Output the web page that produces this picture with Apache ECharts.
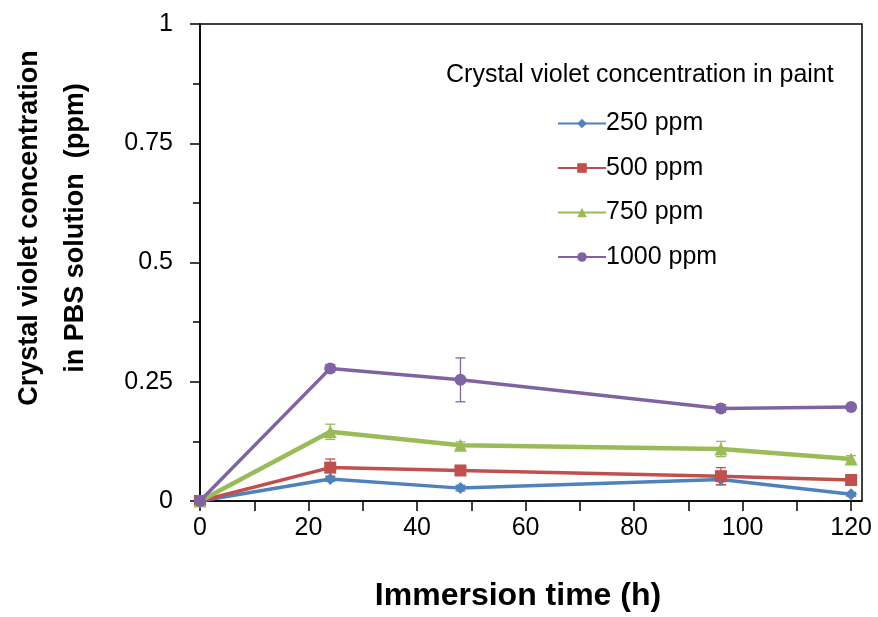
<!DOCTYPE html>
<html>
<head>
<meta charset="utf-8">
<script src="https://cdn.jsdelivr.net/npm/echarts@6/dist/echarts.min.js"></script>
<style>html,body{margin:0;padding:0;background:#fff;}#c{width:878px;height:617px;}</style>
</head>
<body>
<div id="c"></div>
<script>
const time = [0, 24, 48, 96, 120];
const seriesNames = ['250 ppm', '500 ppm', '750 ppm', '1000 ppm'];
const c250 = [0, 0.046, 0.027, 0.045, 0.014];
const c500 = [0, 0.070, 0.064, 0.052, 0.044];
const c750 = [0, 0.145, 0.117, 0.109, 0.088];
const c1000 = [0, 0.278, 0.254, 0.194, 0.197];
const err250 = [0, 0.005, 0.006, 0.011, 0.004];
const err500 = [0, 0.018, 0.005, 0.018, 0.004];
const err750 = [0, 0.016, 0.007, 0.016, 0.007];
const err1000 = [0, 0.008, 0.046, 0.008, 0.004];
const xTicks = [0, 10, 20, 30, 40, 50, 60, 70, 80, 90, 100, 110, 120];
const xLabels = [0, 20, 40, 60, 80, 100, 120];
const yTitle = 'Crystal violet concentration\nin PBS solution  (ppm)';
const xTitle = 'Immersion time (h)';
const legendTitle = 'Crystal violet concentration in paint';

const values = [c250, c500, c750, c1000];
const errors = [err250, err500, err750, err1000];
const colors = ['#4F81BD', '#C0504D', '#9BBB59', '#8064A2'];
const symbols = ['diamond', 'rect', 'triangle', 'circle'];
const symbolSizes = [12, 12, 13, 12];
const lineWidths = [3.5, 3.5, 4.5, 3.5];

const font = 'Liberation Sans, Arial, sans-serif';
const chart = echarts.init(document.getElementById('c'));

const series = [];
values.forEach((vals, i) => {
  series.push({
    type: 'custom',
    name: seriesNames[i] + ' err',
    silent: true,
    z: 2,
    data: time.map((t, j) => [t, vals[j], errors[i][j]]),
    renderItem: function (params, api) {
      const x = api.value(0), y = api.value(1), e = api.value(2);
      if (!e) return null;
      const top = api.coord([x, y + e]);
      const bot = api.coord([x, y - e]);
      const cap = 5;
      const st = { stroke: colors[i], lineWidth: 1.3 };
      return {
        type: 'group',
        children: [
          { type: 'line', shape: { x1: top[0], y1: top[1], x2: bot[0], y2: bot[1] }, style: st },
          { type: 'line', shape: { x1: top[0] - cap, y1: top[1], x2: top[0] + cap, y2: top[1] }, style: st },
          { type: 'line', shape: { x1: bot[0] - cap, y1: bot[1], x2: bot[0] + cap, y2: bot[1] }, style: st }
        ]
      };
    }
  });
});
values.forEach((vals, i) => {
  series.push({
    type: 'line',
    name: seriesNames[i],
    data: time.map((t, j) => [t, vals[j]]),
    symbol: symbols[i],
    symbolSize: symbolSizes[i],
    showAllSymbol: true,
    z: 3 + i,
    lineStyle: { color: colors[i], width: lineWidths[i] },
    itemStyle: { color: colors[i] },
    emphasis: { disabled: true },
    animation: false
  });
});

chart.setOption({
  animation: false,
  backgroundColor: '#fff',
  title: {
    text: legendTitle,
    left: 441,
    top: 58,
    textStyle: { fontFamily: font, fontSize: 25, fontWeight: 'normal', color: '#000' }
  },
  legend: {
    orient: 'vertical',
    left: 552,
    top: 106,
    itemWidth: 48,
    itemHeight: 12,
    itemGap: 19.5,
    data: seriesNames,
    textStyle: { fontFamily: font, fontSize: 25, color: '#000', padding: [0, 0, 0, -5] }
  },
  grid: {
    left: 200, top: 24, right: 16, bottom: 116,
    show: true, borderColor: '#000', borderWidth: 1.5, backgroundColor: 'transparent'
  },
  xAxis: {
    type: 'value',
    min: 0, max: 122,
    interval: 10,
    axisLine: { show: true, onZero: false, lineStyle: { color: '#000', width: 1.5 } },
    axisTick: { show: true, inside: false, length: 10, lineStyle: { color: '#000', width: 1.5 }, customValues: xTicks },
    axisLabel: { customValues: xLabels, margin: 15, fontFamily: font, fontSize: 25, color: '#000' },
    splitLine: { show: false }
  },
  yAxis: {
    type: 'value',
    min: 0, max: 1, interval: 0.25,
    axisLine: { show: true, lineStyle: { color: '#000', width: 1.5 } },
    axisTick: { show: true, inside: false, length: 10, lineStyle: { color: '#000', width: 1.5 } },
    minorTick: { show: true, splitNumber: 2, length: 7, lineStyle: { color: '#000', width: 1.5 } },
    axisLabel: { margin: 27, fontFamily: font, fontSize: 25, color: '#000' },
    splitLine: { show: false },
    minorSplitLine: { show: false }
  },
  graphic: [
    {
      type: 'text',
      x: 53, y: 228,
      rotation: Math.PI / 2,
      style: {
        text: yTitle,
        fontFamily: font, fontSize: 27, fontWeight: 'bold', lineHeight: 46,
        fill: '#000', align: 'center', verticalAlign: 'middle'
      }
    },
    {
      type: 'text',
      x: 518, y: 596,
      style: {
        text: xTitle,
        fontFamily: font, fontSize: 32, fontWeight: 'bold',
        fill: '#000', align: 'center', verticalAlign: 'middle'
      }
    }
  ],
  series: series
});
</script>
</body>
</html>
